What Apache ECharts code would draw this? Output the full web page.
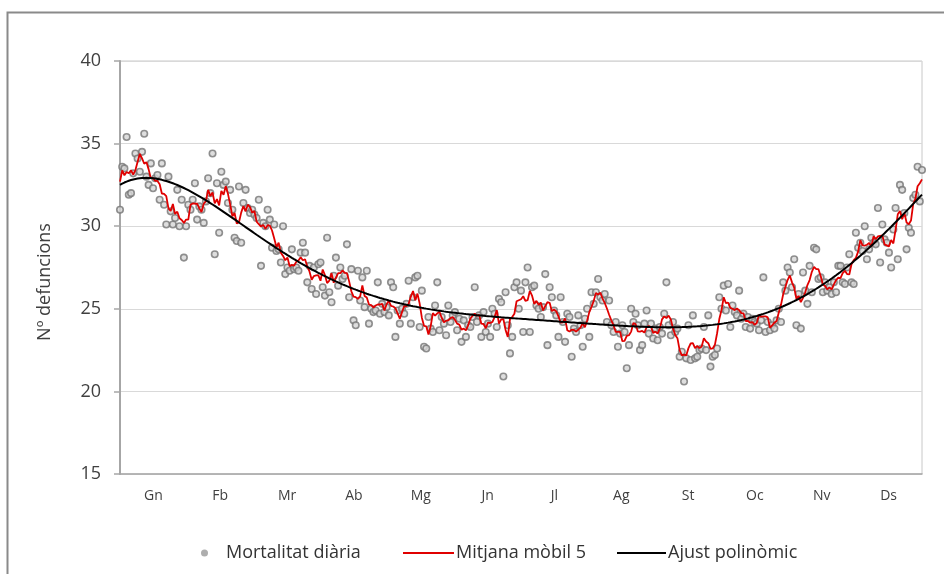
<!DOCTYPE html>
<html><head><meta charset="utf-8">
<script src="https://cdn.jsdelivr.net/npm/echarts@6/dist/echarts.min.js"></script>
<style>html,body{margin:0;padding:0;background:#fff}#c{width:944px;height:574px}</style>
</head><body><div id="c"></div>
<script>
// Month labels (Catalan abbreviations)
const months = ['Gn','Fb','Mr','Ab','Mg','Jn','Jl','Ag','St','Oc','Nv','Ds'];
const yTicks = [15,20,25,30,35,40];
const seriesNames = ['Mortalitat diària','Mitjana mòbil 5','Ajust polinòmic'];
const yTitle = 'Nº defuncions';

// Daily mortality
const gn = [31.0,33.6,33.5,35.4,31.9,32.0,33.2,34.4,34.1,33.3,34.5,35.6,33.0,32.5,33.8,32.3,32.9,33.1,31.6,33.8,31.3,30.1,33.0,30.9,30.1,30.5,32.2,30.0,31.6,28.1,30.0];
const fb = [31.3,31.0,31.6,32.6,30.4,31.2,31.0,30.2,31.5,32.9,32.0,34.4,28.3,32.6,29.6,33.3,32.5,32.7,31.4,32.2,31.0,29.3,29.1,32.4,29.0,31.4,32.2,31.1];
const mr = [30.8,31.0,30.7,30.5,31.6,27.6,30.2,30.0,31.0,30.4,28.7,30.1,28.5,28.6,27.8,30.0,27.1,27.5,27.3,28.6,27.4,27.5,27.3,28.4,29.0,28.4,26.6,27.6,26.2,27.5,25.9];
const ab = [27.7,27.8,26.3,25.8,29.3,26.0,25.4,27.0,28.1,26.4,27.5,26.8,27.0,28.9,25.7,27.4,24.3,24.0,27.3,25.5,26.9,25.1,27.3,24.1,25.0,24.8,24.9,26.6,24.7,25.3];
const mg = [24.8,25.1,24.6,26.6,26.3,23.3,24.9,24.1,25.0,24.7,25.3,26.7,24.1,25.7,26.9,27.0,23.9,26.1,22.7,22.6,24.5,23.8,23.6,25.2,26.6,23.7,24.5,24.1,23.4,25.2,24.2];
const jn = [24.6,24.8,23.7,24.4,23.0,24.3,23.3,24.0,23.9,24.5,26.3,24.2,24.6,23.3,24.8,23.6,24.1,23.3,25.0,24.7,23.9,25.6,25.4,20.9,26.0,24.0,22.3,23.3,26.3,26.6];
const jl = [25.0,26.1,23.6,26.6,27.5,23.6,26.3,26.4,25.2,25.0,24.5,25.1,27.1,22.8,26.3,25.7,24.9,24.6,23.3,25.7,24.2,23.0,24.7,24.5,22.1,23.8,23.6,24.6,24.0,22.7,24.4];
const ag = [25.0,23.3,26.0,25.3,26.0,26.8,25.7,25.5,25.9,24.2,25.5,24.0,23.6,24.2,22.7,23.5,24.0,23.6,21.4,22.8,25.0,24.2,24.7,24.0,22.5,22.8,24.1,24.9,23.5,24.1,23.2];
const st = [23.8,23.1,23.9,23.5,24.7,26.6,24.0,23.4,24.2,23.6,23.8,22.1,22.4,20.6,22.0,24.0,21.9,24.6,22.0,22.1,22.5,22.6,23.9,22.5,24.6,21.5,22.1,22.2,22.6,25.7];
const oc = [25.0,26.4,24.9,26.5,23.9,25.2,24.8,24.6,26.1,24.4,24.7,23.9,24.5,23.8,24.4,24.2,24.1,23.7,24.3,26.9,23.6,24.2,23.7,24.0,23.8,24.3,25.0,24.2,26.6,26.1,27.5];
const nv = [27.2,26.3,28.0,24.0,25.9,23.8,27.2,26.1,25.3,27.6,26.0,28.7,28.6,26.8,26.9,26.0,26.6,26.1,26.3,25.9,26.6,26.0,27.6,27.6,26.6,26.5,27.5,28.3,26.6,26.5];
const ds = [29.6,28.7,29.0,28.5,30.0,28.0,28.6,29.3,29.0,28.9,31.1,27.8,30.1,29.2,29.0,28.4,27.5,29.8,31.1,28.0,32.5,32.2,30.8,28.6,29.9,29.6,31.7,31.9,33.6,31.5,33.4];

const daily = [].concat(gn, fb, mr, ab, mg, jn, jl, ag, st, oc, nv, ds);
const N = daily.length;

// 5-point moving average (centred, shorter window at the ends)
const ma5 = daily.map((v, i) => {
  let s = 0, c = 0;
  for (let k = i - 2; k <= i + 2; k++) if (k >= 0 && k < N) { s += daily[k]; c++; }
  return s / c;
});

// Polynomial least-squares fit (degree 6)
function polyFit(ys, deg) {
  const n = ys.length, mid = (n - 1) / 2;
  const m = deg + 1;
  const A = Array.from({length: m}, () => new Array(m + 1).fill(0));
  for (let i = 0; i < n; i++) {
    const t = (i - mid) / mid;
    const p = [1];
    for (let j = 1; j < 2 * m; j++) p.push(p[j - 1] * t);
    for (let r = 0; r < m; r++) {
      for (let c = 0; c < m; c++) A[r][c] += p[r + c];
      A[r][m] += p[r] * ys[i];
    }
  }
  for (let c = 0; c < m; c++) {
    let piv = c;
    for (let r = c + 1; r < m; r++) if (Math.abs(A[r][c]) > Math.abs(A[piv][c])) piv = r;
    [A[c], A[piv]] = [A[piv], A[c]];
    for (let r = 0; r < m; r++) {
      if (r === c) continue;
      const f = A[r][c] / A[c][c];
      for (let k = c; k <= m; k++) A[r][k] -= f * A[c][k];
    }
  }
  const coef = A.map((row, i) => row[m] / row[i]);
  return ys.map((_, i) => {
    const t = (i - mid) / mid;
    let s = 0, p = 1;
    for (let j = 0; j < m; j++) { s += coef[j] * p; p *= t; }
    return s;
  });
}
const fit = polyFit(daily, 6);

const chart = echarts.init(document.getElementById('c'), null, {renderer: 'canvas'});
const font = 'Open Sans';
const legendText = {fontFamily: font, fontSize: 18, color: '#333'};
chart.setOption({
  animation: false,
  backgroundColor: '#fff',
  graphic: [
    {type: 'rect', left: 5, top: 10, silent: true,
     shape: {width: 1000, height: 1000},
     style: {fill: 'none', stroke: '#8a8a8a', lineWidth: 2}},
    {type: 'text', x: 45, y: 282, rotation: Math.PI / 2, silent: true,
     style: {text: yTitle, fontFamily: font, fontSize: 18, fill: '#404040', align: 'center', verticalAlign: 'middle'}}
  ],
  grid: {left: 120, right: 22, top: 61, bottom: 100, show: true, borderColor: '#c8c8c8', borderWidth: 1},
  legend: [
    {data: [{name: seriesNames[0], icon: 'circle'}], left: 196, top: 539, itemWidth: 7, itemHeight: 7,
     itemStyle: {color: '#9a9a9a', borderWidth: 0},
     textStyle: Object.assign({}, legendText, {padding: [0, 0, 0, 13]})},
    {data: [seriesNames[1]], left: 397, top: 539, itemWidth: 51, itemHeight: 14,
     itemStyle: {opacity: 0}, lineStyle: {color: '#e00000', width: 2},
     textStyle: Object.assign({}, legendText, {padding: [0, 0, 0, -3]})},
    {data: [seriesNames[2]], left: 611, top: 539, itemWidth: 49, itemHeight: 14,
     itemStyle: {opacity: 0}, lineStyle: {color: '#000', width: 2},
     textStyle: Object.assign({}, legendText, {padding: [0, 0, 0, -3]})}
  ],
  xAxis: [
    {type: 'category', data: months, boundaryGap: true, position: 'bottom',
     axisLine: {lineStyle: {color: '#a6a6a6', width: 1.5}}, axisTick: {show: false},
     axisLabel: {fontFamily: font, fontSize: 14, color: '#404040', margin: 15},
     splitLine: {show: false}},
    {type: 'value', min: 0, max: N - 1, show: false, splitLine: {show: false}}
  ],
  yAxis: {
    type: 'value', min: yTicks[0], max: yTicks[yTicks.length - 1], interval: 5,
    axisLine: {show: true, lineStyle: {color: '#a6a6a6', width: 2}},
    axisTick: {show: true, length: 6, lineStyle: {color: '#a6a6a6', width: 1.5}},
    axisLabel: {fontFamily: font, fontSize: 18, color: '#404040', margin: 19},
    splitLine: {lineStyle: {color: '#d9d9d9', width: 1}}
  },
  series: [
    {name: seriesNames[0], type: 'scatter', xAxisIndex: 1, z: 2,
     data: daily.map((v, i) => [i, v]), symbol: 'circle', symbolSize: 6.5,
     itemStyle: {color: '#d6d6d6', borderColor: '#767676', borderWidth: 1.6}},
    {name: seriesNames[1], type: 'line', xAxisIndex: 1, z: 3,
     data: ma5.map((v, i) => [i, v]), symbol: 'none', showSymbol: false,
     lineStyle: {color: '#e00000', width: 1.8}, itemStyle: {color: '#e00000'}},
    {name: seriesNames[2], type: 'line', xAxisIndex: 1, z: 4,
     data: fit.map((v, i) => [i, v]), symbol: 'none', showSymbol: false, smooth: false,
     lineStyle: {color: '#000', width: 2}, itemStyle: {color: '#000'}}
  ]
});
</script></body></html>
